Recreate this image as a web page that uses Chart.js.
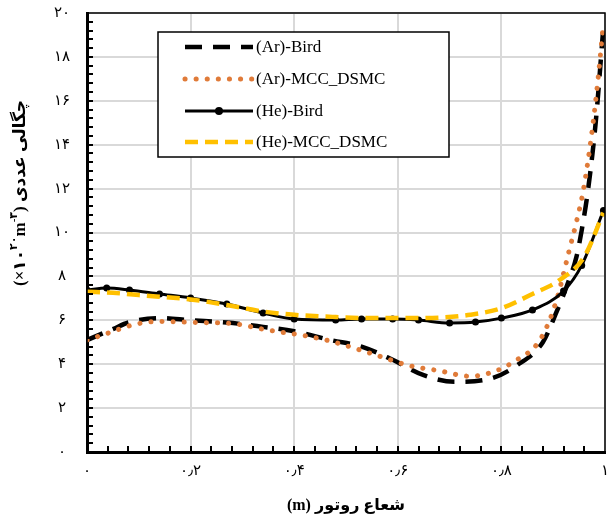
<!DOCTYPE html>
<html>
<head>
<meta charset="utf-8">
<script src="https://cdn.jsdelivr.net/npm/chart.js@4.4.1/dist/chart.umd.min.js"></script>
<style>
html,body{margin:0;padding:0;background:#fff;}
canvas{display:block;}
</style>
</head>
<body>
<canvas id="chart" width="609" height="517"></canvas>
<script>

// values (x = rotor radius in m, y = number density x10^20 m^-3)
const xArBird=[0,0.05,0.08,0.14,0.2,0.27,0.34,0.4,0.47,0.53,0.59,0.65,0.71,0.78,0.83,0.88,0.905,0.93,0.945,0.955,0.967,0.982,0.996];
const yArBird=[5.1,5.6,5.9,6.1,6.0,5.9,5.7,5.5,5.1,4.8,4.2,3.5,3.2,3.35,3.95,5.0,6.3,7.8,8.9,10.1,11.9,15.0,19.1];

const xArMcc=[0,0.045,0.09,0.14,0.21,0.28,0.35,0.42,0.47,0.56,0.62,0.68,0.74,0.79,0.83,0.87,0.893,0.91,0.93,0.945,0.958,0.976,0.987,0.996];
const yArMcc=[5.1,5.45,5.8,5.95,5.9,5.85,5.55,5.3,5.05,4.4,3.95,3.7,3.45,3.7,4.2,4.95,6.0,7.2,9.1,10.5,11.9,14.8,17.1,19.3];

const xHeBird=[0,0.038,0.082,0.14,0.2,0.27,0.34,0.4,0.48,0.53,0.59,0.64,0.7,0.75,0.8,0.86,0.92,0.955,0.997];
const yHeBird=[7.38,7.47,7.38,7.2,7.02,6.74,6.33,6.06,6.01,6.06,6.06,6.01,5.88,5.92,6.1,6.47,7.33,8.5,11.0];

const xHeMcc=[0,0.05,0.1,0.2,0.27,0.34,0.4,0.48,0.55,0.62,0.68,0.74,0.8,0.86,0.91,0.96,0.997];
const yHeMcc=[7.3,7.25,7.15,6.95,6.7,6.4,6.25,6.15,6.1,6.1,6.12,6.25,6.55,7.2,7.8,8.9,10.9];

const seriesNames=["(Ar)-Bird","(Ar)-MCC_DSMC","(He)-Bird","(He)-MCC_DSMC"];

const xTickLabels=["۰","۰٫۲","۰٫۴","۰٫۶","۰٫۸","۱"];
const yTickLabels=["۰","۲","۴","۶","۸","۱۰","۱۲","۱۴","۱۶","۱۸","۲۰"];

const xTitle="(m) شعاع روتور";
const yTitleParts=["(×۱۰","۲۰","m","-۳",")"," ","چگالی عددی"];


function pts(xs,ys){
return xs.map((x,i)=>({x:x,y:ys[i]}));
}

const serif='"Liberation Serif","DejaVu Sans",serif';


// inward minor ticks on left and bottom axes, thin box on top/right
const framePlugin={
id:"frame",
afterDatasetsDraw(chart){
const ctx=chart.ctx;
const a=chart.chartArea;
const xs=chart.scales.x, ys=chart.scales.y;
ctx.save();
ctx.strokeStyle="#000";
ctx.lineWidth=1.5;
ctx.strokeRect(a.left,a.top,a.right-a.left,a.bottom-a.top);
ctx.lineWidth=2;
ctx.beginPath();
for(let i=1;i<25;i++){
const px=Math.round(xs.getPixelForValue(i*0.04));
ctx.moveTo(px,a.bottom);
ctx.lineTo(px,a.bottom-6);
}
for(let i=1;i<50;i++){
const py=Math.round(ys.getPixelForValue(i*0.4));
ctx.moveTo(a.left,py);
ctx.lineTo(a.left+6,py);
}
ctx.stroke();
ctx.restore();
}
};


// legend box inside the plot
const legendPlugin={
id:"boxLegend",
afterDraw(chart){
const ctx=chart.ctx;
ctx.save();
ctx.fillStyle="#fff";
ctx.fillRect(158,32,291,125);
ctx.strokeStyle="#000";
ctx.lineWidth=1.5;
ctx.strokeRect(158,32,291,125);
const rows=[47,79,111,142];
chart.data.datasets.forEach((ds,i)=>{
const y=rows[ds.legendRow];
ctx.save();
ctx.strokeStyle=ds.borderColor;
ctx.lineWidth=ds.borderWidth;
ctx.lineCap=ds.borderCapStyle||"butt";
ctx.setLineDash(ds.borderDash||[]);
ctx.beginPath();
ctx.moveTo(185,y);
ctx.lineTo(253,y);
ctx.stroke();
if(ds.pointRadius>0){
ctx.setLineDash([]);
ctx.fillStyle=ds.pointBackgroundColor;
ctx.beginPath();
ctx.arc(219,y,ds.pointRadius+0.5,0,Math.PI*2);
ctx.fill();
}
ctx.restore();
ctx.fillStyle="#000";
ctx.font="17px "+serif;
ctx.textBaseline="middle";
ctx.textAlign="left";
ctx.fillText(ds.label,256,y+1);
});
ctx.restore();
}
};


// rotated y title with superscripts
const yTitlePlugin={
id:"yTitle",
afterDraw(chart){
const ctx=chart.ctx;
const big="bold 17px "+serif;
const small="bold 11px "+serif;
const fonts=[big,small,big,small,big,big,big];
const rise=[0,-7,0,-7,0,0,0];
ctx.save();
ctx.translate(21,193);
ctx.rotate(-Math.PI/2);
ctx.fillStyle="#000";
ctx.textBaseline="middle";
ctx.textAlign="left";
let total=0;
const widths=yTitleParts.map((t,i)=>{
ctx.font=fonts[i];
const w=ctx.measureText(t).width;
total+=w;
return w;
});
let x=-total/2;
yTitleParts.forEach((t,i)=>{
ctx.font=fonts[i];
ctx.fillText(t,x,rise[i]);
x+=widths[i];
});
ctx.restore();
}
};


new Chart(document.getElementById("chart"),{
type:"line",
data:{
datasets:[
{
label:seriesNames[3],
legendRow:3,
data:pts(xHeMcc,yHeMcc),
borderColor:"#ffc000",
borderWidth:4.5,
borderDash:[13,7],
pointRadius:0,
order:1
},
{
label:seriesNames[2],
legendRow:2,
data:pts(xHeBird,yHeBird),
borderColor:"#000",
borderWidth:3,
pointRadius:3.5,
pointBackgroundColor:"#000",
pointBorderWidth:0,
order:2
},
{
label:seriesNames[1],
legendRow:1,
data:pts(xArMcc,yArMcc),
borderColor:"#e07b39",
borderWidth:5,
borderDash:[0.1,11],
borderCapStyle:"round",
pointRadius:0,
order:3
},
{
label:seriesNames[0],
legendRow:0,
data:pts(xArBird,yArBird),
borderColor:"#000",
borderWidth:4.5,
borderDash:[17,11],
pointRadius:0,
order:4
}
]
},
options:{
responsive:false,
animation:false,
devicePixelRatio:1,
cubicInterpolationMode:"monotone",
layout:{padding:{top:13,right:1,left:0,bottom:0}},
plugins:{
legend:{display:false},
tooltip:{enabled:false}
},
scales:{
x:{
type:"linear",
min:0,
max:1,
afterFit:s=>{s.height=65;s.paddingLeft=0;s.paddingRight=0;},
ticks:{
stepSize:0.2,
padding:10,
color:"#000",
font:{family:serif,size:15},
callback:(v,i)=>xTickLabels[i]
},
grid:{color:"#d9d9d9",lineWidth:2,drawTicks:false},
border:{color:"#000",width:3},
title:{
display:true,
text:xTitle,
color:"#000",
font:{family:serif,size:16,weight:"bold"},
padding:{top:0,bottom:2}
}
},
y:{
min:0,
max:20,
afterFit:s=>{s.width=87;s.paddingTop=0;s.paddingBottom=0;},
ticks:{
stepSize:2,
padding:17,
crossAlign:"center",
color:"#000",
font:{family:serif,size:15},
callback:(v,i)=>yTickLabels[i]
},
grid:{color:"#d9d9d9",lineWidth:2,drawTicks:false},
border:{color:"#000",width:3}
}
}
},
plugins:[framePlugin,legendPlugin,yTitlePlugin]
});

</script>
</body>
</html>
